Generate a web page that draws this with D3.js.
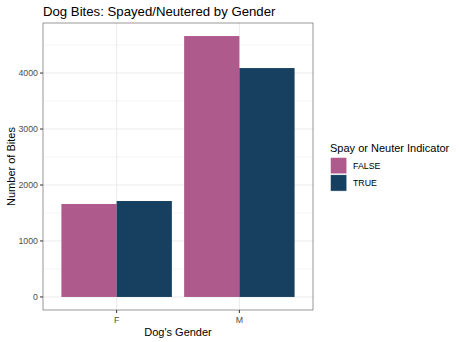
<!DOCTYPE html>
<html><head><meta charset="utf-8">
<script src="https://cdn.jsdelivr.net/npm/d3@7"></script>
<style>body{margin:0;background:#fff}svg{display:block;font-family:"Liberation Sans",Arial,sans-serif}</style>
</head><body><svg id="c" width="459" height="342"></svg>
<script>
const categories = ["F", "M"];
const seriesNames = ["FALSE", "TRUE"];
const valuesFalse = [1661, 4661];
const valuesTrue = [1714, 4089];
const yTicks = [0, 1000, 2000, 3000, 4000];
const colors = ["#AE5A8C", "#173F5F"];

const svg = d3.select("#c");
const L = 43, R = 313, T = 23, B = 310;
const maxV = d3.max(valuesFalse.concat(valuesTrue));
const y = d3.scaleLinear().domain([-0.05 * maxV, 1.05 * maxV]).range([B, T]);
const x = d3.scaleBand().domain(categories).range([L, R]).paddingOuter(0.1).paddingInner(0.1 / 0.9 * 0 + 0.1);
// ggplot discrete: continuous range 0.4..2.6
const xc = d3.scaleLinear().domain([0.4, 2.6]).range([L, R]);
const barW = 0.9;

// grid
const minor = [500, 1500, 2500, 3500, 4500];
svg.selectAll(".gmin").data(minor).join("line")
  .attr("x1", L).attr("x2", R).attr("y1", d => y(d)).attr("y2", d => y(d))
  .attr("stroke", "#EBEBEB").attr("stroke-width", 0.55);
svg.selectAll(".gmaj").data(yTicks).join("line")
  .attr("x1", L).attr("x2", R).attr("y1", d => y(d)).attr("y2", d => y(d))
  .attr("stroke", "#EBEBEB").attr("stroke-width", 1.07);
svg.selectAll(".gx").data(categories).join("line")
  .attr("x1", (d, i) => xc(i + 1)).attr("x2", (d, i) => xc(i + 1)).attr("y1", T).attr("y2", B)
  .attr("stroke", "#EBEBEB").attr("stroke-width", 1.07);

// bars
const series = [valuesFalse, valuesTrue];
series.forEach((vals, s) => {
  svg.append("g").selectAll("rect").data(vals).join("rect")
    .attr("x", (d, i) => xc(i + 1 - barW / 2 + s * barW / 2))
    .attr("width", xc(barW / 2) - xc(0))
    .attr("y", d => y(d))
    .attr("height", d => y(0) - y(d))
    .attr("fill", colors[s]);
});

// panel border
svg.append("rect").attr("x", L).attr("y", T).attr("width", R - L).attr("height", B - T)
  .attr("fill", "none").attr("stroke", "#333333").attr("stroke-width", 0.5);

// y axis
const yg = svg.append("g");
yg.selectAll("line").data(yTicks).join("line")
  .attr("x1", L - 3).attr("x2", L).attr("y1", d => y(d)).attr("y2", d => y(d))
  .attr("stroke", "#333333").attr("stroke-width", 1);
yg.selectAll("text").data(yTicks).join("text")
  .attr("x", L - 5).attr("y", d => y(d)).attr("dy", "0.35em").attr("text-anchor", "end")
  .attr("font-size", 8.8).attr("fill", "#4D4D4D").text(d => d);

// x axis
const xg = svg.append("g");
xg.selectAll("line").data(categories).join("line")
  .attr("x1", (d, i) => xc(i + 1)).attr("x2", (d, i) => xc(i + 1)).attr("y1", B).attr("y2", B + 3)
  .attr("stroke", "#333333").attr("stroke-width", 1);
xg.selectAll("text").data(categories).join("text")
  .attr("x", (d, i) => xc(i + 1)).attr("y", B + 13).attr("text-anchor", "middle")
  .attr("font-size", 8.8).attr("fill", "#4D4D4D").text(d => d);

// titles
svg.append("text").attr("x", L).attr("y", 16).attr("font-size", 13.2).attr("fill", "#000")
  .text("Dog Bites: Spayed/Neutered by Gender");
svg.append("text").attr("x", (L + R) / 2).attr("y", 336).attr("text-anchor", "middle")
  .attr("font-size", 11).attr("fill", "#000").text("Dog's Gender");
svg.append("text").attr("transform", `translate(15,${(T + B) / 2}) rotate(-90)`)
  .attr("text-anchor", "middle").attr("font-size", 11).attr("fill", "#000").text("Number of Bites");

// legend
const lg = svg.append("g");
lg.append("text").attr("x", 330).attr("y", 152).attr("font-size", 11).attr("fill", "#000")
  .text("Spay or Neuter Indicator");
seriesNames.forEach((n, i) => {
  lg.append("rect").attr("x", 330.5).attr("y", 157.5 + i * 17.3).attr("width", 16.3).attr("height", 16.3)
    .attr("fill", colors[i]).attr("stroke", "#fff").attr("stroke-width", 0.5);
  lg.append("text").attr("x", 353).attr("y", 166 + i * 17.3).attr("dy", "0.35em")
    .attr("font-size", 8.8).attr("fill", "#000").text(n);
});
</script></body></html>
